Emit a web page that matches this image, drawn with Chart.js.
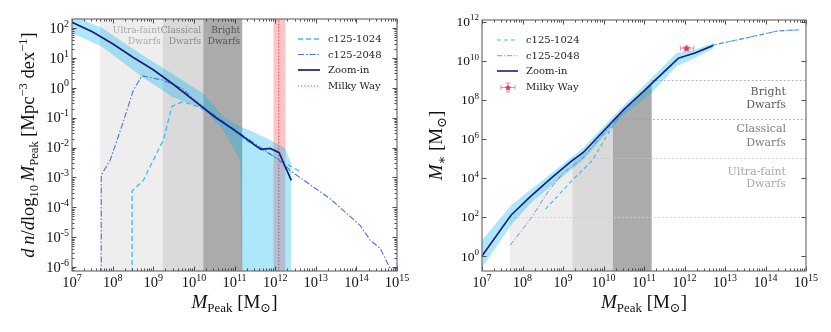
<!DOCTYPE html>
<html>
<head>
<meta charset="utf-8">
<script src="https://cdn.jsdelivr.net/npm/chart.js@4.4.0/dist/chart.umd.min.js"></script>
<style>
  html, body { margin: 0; padding: 0; background: #fff; }
  #wrap { position: relative; width: 831px; height: 332px; }
  .box { position: absolute; top: 0; height: 332px; }
</style>
</head>
<body>
<div id="wrap">
  <div class="box" style="left:0;width:415px"><canvas id="hmf" width="415" height="332"></canvas></div>
  <div class="box" style="left:415px;width:416px"><canvas id="smhm" width="416" height="332"></canvas></div>
</div>
<script>
// all values are log10

// left panel: halo mass function
const hmfZoomX = [7.0, 7.5, 8.0, 8.5, 9.0, 9.5, 10.0, 10.5, 11.0, 11.5, 11.65, 11.88, 12.1, 12.25, 12.4];
const hmfZoomY = [2.19, 1.87, 1.47, 1.02, 0.60, 0.11, -0.42, -0.96, -1.42, -1.92, -2.06, -2.03, -2.17, -2.65, -3.1];
const hmfBandX = [7.0, 7.74, 8.72, 9.46, 10.23, 10.72, 11.14, 11.19, 11.38, 11.88, 12.25, 12.39];
const hmfBandHi = [2.43, 2.0, 1.1, 0.48, -0.19, -0.95, -1.31, -1.33, -1.42, -1.75, -2.02, -2.52];
const hmfBandLo = [1.83, 1.37, 0.37, -0.3, -0.69, -1.42, -2.42, -8, -8, -8, -8, -8];
const hmf2048X = [7.72, 7.72, 7.94, 8.22, 8.51, 8.72, 9.22, 9.71, 10.04, 10.3, 11.19, 12.1, 12.4, 13.35, 14.09, 14.34, 14.59, 14.85];
const hmf2048Y = [-7, -2.92, -2.42, -1.31, -0.08, 0.40, 0.26, -0.02, -0.45, -0.72, -1.58, -2.42, -2.8, -3.71, -4.6, -5.1, -5.38, -6.1];
const hmf1024X = [8.48, 8.48, 8.76, 9.0, 9.25, 9.46, 9.72, 10.12, 10.45, 11.14, 12.12, 12.62];
const hmf1024Y = [-7, -3.45, -3.09, -2.42, -1.75, -0.62, -0.47, -0.64, -0.91, -1.64, -2.42, -2.81];

// right panel: stellar mass - halo mass
const smhmZoomX = [7.0, 7.72, 8.2, 8.7, 9.2, 9.5, 10.0, 10.5, 11.0, 11.25, 11.85, 12.26, 12.71];
const smhmZoomY = [0.0, 2.1, 3.05, 3.97, 4.84, 5.3, 6.4, 7.5, 8.45, 8.95, 10.13, 10.39, 10.78];
const smhmBandX = [7.0, 7.72, 8.23, 9.47, 10.46, 11.19, 11.8, 12.26, 12.71];
const smhmBandHi = [0.8, 2.59, 3.44, 5.48, 7.62, 9.12, 10.39, 10.56, 10.9];
const smhmBandLo = [-0.6, 1.58, 2.76, 4.88, 7.15, 8.35, 9.71, 10.13, 10.64];
const smhm2048X = [7.7, 8.23, 8.6, 8.98, 9.47, 10.17, 10.5, 11.19, 11.85, 12.26, 12.71, 13.5, 14.3, 14.85];
const smhm2048Y = [0.56, 1.98, 3.2, 4.2, 4.97, 6.66, 7.45, 8.8, 10.1, 10.4, 10.8, 11.15, 11.52, 11.58];
const smhm1024X = [8.57, 9.22, 9.72, 10.17, 10.5, 11.19, 11.85, 12.26, 12.71, 13.5, 14.3, 14.85];
const smhm1024Y = [2.4, 3.86, 4.88, 6.45, 7.42, 8.8, 10.1, 10.4, 10.8, 11.15, 11.52, 11.58];

// Milky Way
const mwHalo = 12.09;
const mwHaloRange = [11.96, 12.25];
const mwStarX = [12.05];
const mwStarY = [10.64];
const mwStarErrX = [11.9, 12.23];
const mwStarErrY = [10.54, 10.74];

// dwarf classes
const dwarfEdges = [7.69, 9.23, 10.23, 11.19];
const dwarfNames = [["Ultra-faint", "Dwarfs"], ["Classical", "Dwarfs"], ["Bright", "Dwarfs"]];
const dwarfStarLevels = [2, 5, 7, 9];

// tick labels (exponents)
const massDecades = [7, 8, 9, 10, 11, 12, 13, 14, 15];
const hmfDecades = [-6, -5, -4, -3, -2, -1, 0, 1, 2];
const smhmDecades = [0, 2, 4, 6, 8, 10, 12];

const seriesNames = ["c125-1024", "c125-2048", "Zoom-in", "Milky Way"];

// ---------------------------------------------------------------
const serif = '"DejaVu Serif", serif';
const mathFont = '"Liberation Serif", "DejaVu Serif", serif';
const grays = ["#eeeeee", "#dadada", "#ababab"];
const bandColor = "rgba(0,180,235,0.32)";
const navy = "#18207f";

function lg(v) { return Math.pow(10, v); }
function pts(xs, ys) { return xs.map((x, i) => ({ x: lg(x), y: lg(ys[i]) })); }

function drawRich(ctx, segs, x, y, size, rotate) {
	ctx.save();
	ctx.translate(x, y);
	if (rotate) ctx.rotate(-Math.PI / 2);
	let total = 0;
	const items = segs.map(s => {
		const sz = s.dy ? size * 0.68 : size;
		const font = (s.it ? "italic " : "") + sz.toFixed(1) + "px " + mathFont;
		ctx.font = font;
		const w = ctx.measureText(s.t).width;
		total += w;
		return { t: s.t, font: font, w: w, dy: (s.dy || 0) * size };
	});
	let cx = -total / 2;
	ctx.fillStyle = "#111";
	ctx.textAlign = "left";
	ctx.textBaseline = "alphabetic";
	items.forEach(it => { ctx.font = it.font; ctx.fillText(it.t, cx, it.dy); cx += it.w; });
	ctx.restore();
}

function powLabel(ctx, exp, x, y, size, align) {
	const e = String(exp);
	ctx.font = size + "px " + mathFont;
	const w1 = ctx.measureText("10").width;
	ctx.font = Math.round(size * 0.7) + "px " + mathFont;
	const w2 = ctx.measureText(e).width;
	const x0 = align === "right" ? x - w1 - w2 : x - (w1 + w2) / 2;
	ctx.fillStyle = "#111";
	ctx.textAlign = "left";
	ctx.textBaseline = "alphabetic";
	ctx.font = size + "px " + mathFont;
	ctx.fillText("10", x0, y);
	ctx.font = Math.round(size * 0.7) + "px " + mathFont;
	ctx.fillText(e, x0 + w1, y - size * 0.42);
}

// inward ticks on all four sides + frame
function drawFrame(chart, yMinor, yStep) {
	const { ctx, chartArea: a, scales } = chart;
	const xs = scales.x, ys = scales.y;
	ctx.save();
	ctx.strokeStyle = "#222";
	ctx.lineWidth = 0.8;
	ctx.beginPath();
	const xlo = Math.floor(Math.log10(xs.min)), xhi = Math.ceil(Math.log10(xs.max));
	for (let d = xlo; d <= xhi; d++) {
		for (let k = 1; k <= 9; k++) {
			const v = k * lg(d);
			if (v < xs.min * 0.999 || v > xs.max * 1.001) continue;
			const p = Math.round(xs.getPixelForValue(v)) + 0.5;
			const len = k === 1 ? 4.5 : 2.5;
			ctx.moveTo(p, a.bottom); ctx.lineTo(p, a.bottom - len);
			ctx.moveTo(p, a.top); ctx.lineTo(p, a.top + len);
		}
	}
	const ylo = Math.floor(Math.log10(ys.min)), yhi = Math.ceil(Math.log10(ys.max));
	for (let d = ylo; d <= yhi; d++) {
		for (let k = 1; k <= 9; k++) {
			if (k > 1 && !yMinor) break;
			if (k === 1 && d % yStep !== 0) continue;
			const v = k * lg(d);
			if (v < ys.min * 0.999 || v > ys.max * 1.001) continue;
			const p = Math.round(ys.getPixelForValue(v)) + 0.5;
			const len = k === 1 ? 4.5 : 2.5;
			ctx.moveTo(a.left, p); ctx.lineTo(a.left + len, p);
			ctx.moveTo(a.right, p); ctx.lineTo(a.right - len, p);
		}
	}
	ctx.stroke();
	ctx.strokeStyle = "#707070";
	ctx.lineWidth = 1.2;
	ctx.strokeRect(a.left, a.top, a.right - a.left, a.bottom - a.top);
	ctx.restore();
}

function legendEntry(ctx, x0, x1, y, ds, text) {
	ctx.save();
	ctx.strokeStyle = ds.borderColor;
	ctx.lineWidth = ds.borderWidth;
	ctx.setLineDash(ds.borderDash || []);
	ctx.beginPath(); ctx.moveTo(x0, y); ctx.lineTo(x1, y); ctx.stroke();
	ctx.restore();
	legendText(ctx, x1 + 8, y, text);
}
function legendText(ctx, x, y, text) {
	ctx.save();
	ctx.fillStyle = "#222";
	ctx.font = "10px " + serif;
	ctx.textAlign = "left";
	ctx.textBaseline = "middle";
	ctx.fillText(text, x, y + 0.5);
	ctx.restore();
}

function drawStar(ctx, cx, cy, r, color) {
	ctx.save();
	ctx.fillStyle = color;
	ctx.beginPath();
	for (let i = 0; i < 10; i++) {
		const rr = i % 2 ? r * 0.42 : r;
		const ang = -Math.PI / 2 + i * Math.PI / 5;
		const px = cx + rr * Math.cos(ang), py = cy + rr * Math.sin(ang);
		i ? ctx.lineTo(px, py) : ctx.moveTo(px, py);
	}
	ctx.closePath();
	ctx.fill();
	ctx.restore();
}
function errBars(ctx, x0, x1, xc, y0, y1, yc, color) {
	ctx.save();
	ctx.strokeStyle = color;
	ctx.lineWidth = 1;
	ctx.beginPath();
	ctx.moveTo(x0, yc); ctx.lineTo(x1, yc);
	ctx.moveTo(x0, yc - 2.5); ctx.lineTo(x0, yc + 2.5);
	ctx.moveTo(x1, yc - 2.5); ctx.lineTo(x1, yc + 2.5);
	ctx.moveTo(xc, y0); ctx.lineTo(xc, y1);
	ctx.moveTo(xc - 2.5, y0); ctx.lineTo(xc + 2.5, y0);
	ctx.moveTo(xc - 2.5, y1); ctx.lineTo(xc + 2.5, y1);
	ctx.stroke();
	ctx.restore();
}

const starImg = document.createElement("canvas");
starImg.width = 10; starImg.height = 10;
drawStar(starImg.getContext("2d"), 5, 5.4, 4.4, "#e0325c");

function sizeAxes(xh, yw) {
	return {
		x: {
			type: "logarithmic",
			min: 1e7, max: 1e15,
			grid: { display: false }, border: { display: false },
			ticks: { display: false },
			afterFit: s => { s.height = xh; }
		},
		y: {
			type: "logarithmic",
			grid: { display: false }, border: { display: false },
			ticks: { display: false },
			afterFit: s => { s.width = yw; }
		}
	};
}

// ---------------- left: mass function ----------------
const hmfScales = sizeAxes(61, 72);
hmfScales.y.min = lg(-6.13);
hmfScales.y.max = lg(2.3);

const hmfPlugin = {
	id: "hmfDecor",
	beforeDatasetsDraw(chart) {
		const { ctx, chartArea: a, scales: { x } } = chart;
		ctx.save();
		for (let i = 0; i < 3; i++) {
			const x0 = x.getPixelForValue(lg(dwarfEdges[i]));
			const x1 = x.getPixelForValue(lg(dwarfEdges[i + 1]));
			ctx.fillStyle = grays[i];
			ctx.fillRect(x0, a.top, x1 - x0, a.bottom - a.top);
		}
		const m0 = x.getPixelForValue(lg(mwHaloRange[0])), m1 = x.getPixelForValue(lg(mwHaloRange[1]));
		ctx.fillStyle = "rgba(255,110,110,0.4)";
		ctx.fillRect(m0, a.top, m1 - m0, a.bottom - a.top);
		// class labels
		const tcol = ["#aaaaaa", "#8a8a8a", "#555555"];
		ctx.font = "9px " + serif;
		ctx.textAlign = "right";
		ctx.textBaseline = "middle";
		for (let i = 0; i < 3; i++) {
			const xr = x.getPixelForValue(lg(dwarfEdges[i + 1])) - 2;
			ctx.fillStyle = tcol[i];
			ctx.fillText(dwarfNames[i][0], xr, a.top + 12);
			ctx.fillText(dwarfNames[i][1], xr, a.top + 23);
		}
		ctx.restore();
	},
	afterDraw(chart) {
		const { ctx, chartArea: a, scales: { x, y } } = chart;
		drawFrame(chart, true, 1);
		massDecades.forEach(d => powLabel(ctx, d, x.getPixelForValue(lg(d)), a.bottom + 16, 14.5, "center"));
		hmfDecades.forEach(d => powLabel(ctx, d, a.left - 3, y.getPixelForValue(lg(d)) + 4.8, 14.5, "right"));
		drawRich(ctx, [
			{ t: "M", it: true }, { t: "Peak", dy: 0.22 }, { t: " [M" }, { t: "\u2299", dy: 0.22 }, { t: "]" }
		], (a.left + a.right) / 2, a.bottom + 37, 19, false);
		drawRich(ctx, [
			{ t: "d\u2009n", it: true }, { t: "/" }, { t: "d", it: true }, { t: "log" }, { t: "10", dy: 0.22 },
			{ t: "\u2009" }, { t: "M", it: true }, { t: "Peak", dy: 0.22 }, { t: " [Mpc" }, { t: "\u22123", dy: -0.4 },
			{ t: " dex" }, { t: "\u22121", dy: -0.4 }, { t: "]" }
		], 34, (a.top + a.bottom) / 2, 18.5, true);
		const ds = chart.data.datasets;
		legendEntry(ctx, 298, 320, 39, ds[2], seriesNames[0]);
		legendEntry(ctx, 298, 320, 54.5, ds[1], seriesNames[1]);
		legendEntry(ctx, 298, 320, 70, ds[0], seriesNames[2]);
		legendEntry(ctx, 298, 320, 86, ds[3], seriesNames[3]);
	}
};

new Chart(document.getElementById("hmf"), {
	type: "line",
	data: {
		datasets: [
			{ label: seriesNames[2], data: pts(hmfZoomX, hmfZoomY), borderColor: navy, borderWidth: 1.7, pointRadius: 0, fill: false },
			{ label: seriesNames[1], data: pts(hmf2048X, hmf2048Y), borderColor: "#4d72e3", borderWidth: 1.1, borderDash: [6, 2, 1.5, 2], pointRadius: 0, fill: false },
			{ label: seriesNames[0], data: pts(hmf1024X, hmf1024Y), borderColor: "#3dbdf0", borderWidth: 1.3, borderDash: [5, 3], pointRadius: 0, fill: false },
			{ label: seriesNames[3], data: [{ x: lg(mwHalo), y: lg(-7) }, { x: lg(mwHalo), y: lg(3) }], borderColor: "#e2385f", borderWidth: 1.2, borderDash: [1.2, 2], pointRadius: 0, fill: false },
			{ label: "band", data: pts(hmfBandX, hmfBandHi), borderWidth: 0, borderColor: "rgba(0,0,0,0)", backgroundColor: bandColor, pointRadius: 0, fill: "+1" },
			{ label: "bandLo", data: pts(hmfBandX, hmfBandLo), borderWidth: 0, borderColor: "rgba(0,0,0,0)", pointRadius: 0, fill: false }
		]
	},
	options: {
		responsive: false,
		animation: false,
		devicePixelRatio: 1,
		layout: { padding: { top: 19, right: 18, left: 0, bottom: 0 } },
		scales: hmfScales,
		plugins: { legend: { display: false }, tooltip: { enabled: false } }
	},
	plugins: [hmfPlugin]
});

// ---------------- right: stellar mass - halo mass ----------------
const smhmScales = sizeAxes(61, 67);
smhmScales.y.min = lg(-0.77);
smhmScales.y.max = lg(12.08);

const smhmPlugin = {
	id: "smhmDecor",
	beforeDatasetsDraw(chart) {
		const { ctx, chartArea: a, scales: { x, y } } = chart;
		const line = chart.getDatasetMeta(0).data;
		ctx.save();
		ctx.beginPath();
		line.forEach((p, i) => i ? ctx.lineTo(p.x, p.y) : ctx.moveTo(p.x, p.y));
		ctx.lineTo(line[line.length - 1].x, a.bottom);
		ctx.lineTo(line[0].x, a.bottom);
		ctx.closePath();
		ctx.clip();
		for (let i = 0; i < 3; i++) {
			const x0 = x.getPixelForValue(lg(dwarfEdges[i]));
			const x1 = x.getPixelForValue(lg(dwarfEdges[i + 1]));
			ctx.fillStyle = grays[i];
			ctx.fillRect(x0, a.top, x1 - x0, a.bottom - a.top);
		}
		ctx.restore();
		// dotted class thresholds
		const lcol = ["#d0d0d0", "#c4c4c4", "#a0a0a0", "#a0a0a0"];
		ctx.save();
		ctx.lineWidth = 0.8;
		ctx.setLineDash([2, 2]);
		dwarfStarLevels.forEach((lv, i) => {
			const py = Math.round(y.getPixelForValue(lg(lv))) + 0.5;
			const x0 = x.getPixelForValue(lg(dwarfEdges[i]));
			ctx.strokeStyle = lcol[i];
			ctx.beginPath(); ctx.moveTo(x0, py); ctx.lineTo(a.right, py); ctx.stroke();
		});
		ctx.restore();
		// class labels
		const tcol = ["#a8a8a8", "#7c7c7c", "#5a5a5a"];
		const tpos = [[4.31, 3.69], [6.51, 5.79], [8.41, 7.74]];
		ctx.save();
		ctx.font = "11px " + serif;
		ctx.textAlign = "right";
		ctx.textBaseline = "middle";
		for (let i = 0; i < 3; i++) {
			ctx.fillStyle = tcol[i];
			ctx.fillText(dwarfNames[i][0], a.right - 20, y.getPixelForValue(lg(tpos[i][0])));
			ctx.fillText(dwarfNames[i][1], a.right - 20, y.getPixelForValue(lg(tpos[i][1])));
		}
		ctx.restore();
	},
	afterDatasetsDraw(chart) {
		const { ctx, scales: { x, y } } = chart;
		errBars(ctx, x.getPixelForValue(lg(mwStarErrX[0])), x.getPixelForValue(lg(mwStarErrX[1])), x.getPixelForValue(lg(mwStarX[0])),
			y.getPixelForValue(lg(mwStarErrY[0])), y.getPixelForValue(lg(mwStarErrY[1])), y.getPixelForValue(lg(mwStarY[0])), "rgba(226,60,95,0.55)");
	},
	afterDraw(chart) {
		const { ctx, chartArea: a, scales: { x, y } } = chart;
		drawFrame(chart, false, 2);
		massDecades.forEach(d => powLabel(ctx, d, x.getPixelForValue(lg(d)), a.bottom + 16, 14, "center"));
		smhmDecades.forEach(d => powLabel(ctx, d, a.left - 3, y.getPixelForValue(lg(d)) + 4.6, 13.5, "right"));
		drawRich(ctx, [
			{ t: "M", it: true }, { t: "Peak", dy: 0.22 }, { t: " [M" }, { t: "\u2299", dy: 0.22 }, { t: "]" }
		], (a.left + a.right) / 2, a.bottom + 37, 19, false);
		drawRich(ctx, [
			{ t: "M", it: true }, { t: "\u2217", dy: 0.22 }, { t: " [M" }, { t: "\u2299", dy: 0.22 }, { t: "]" }
		], 27, (a.top + a.bottom) / 2, 19, true);
		const ds = chart.data.datasets;
		legendEntry(ctx, 82, 103, 40, ds[3], seriesNames[0]);
		legendEntry(ctx, 82, 103, 55.7, ds[2], seriesNames[1]);
		legendEntry(ctx, 82, 103, 71, ds[0], seriesNames[2]);
		errBars(ctx, 86, 100, 93, 83, 92, 87.5, "rgba(226,60,95,0.55)");
		drawStar(ctx, 93, 87.8, 3.8, "#e0325c");
		legendText(ctx, 111, 87.3, seriesNames[3]);
	}
};

new Chart(document.getElementById("smhm"), {
	type: "line",
	data: {
		datasets: [
			{ label: seriesNames[2], data: pts(smhmZoomX, smhmZoomY), borderColor: navy, borderWidth: 1.6, pointRadius: 0, fill: false },
			{ label: seriesNames[3], data: pts(mwStarX, mwStarY), showLine: false, pointStyle: starImg, pointRadius: 5, fill: false },
			{ label: seriesNames[1], data: pts(smhm2048X, smhm2048Y), borderColor: "rgba(80,110,225,0.75)", borderWidth: 1, borderDash: [5, 2, 1.2, 2], pointRadius: 0, fill: false },
			{ label: seriesNames[0], data: pts(smhm1024X, smhm1024Y), borderColor: "rgba(40,180,240,0.85)", borderWidth: 1.2, borderDash: [4, 3], pointRadius: 0, fill: false },
			{ label: "band", data: pts(smhmBandX, smhmBandHi), borderWidth: 0, borderColor: "rgba(0,0,0,0)", backgroundColor: bandColor, pointRadius: 0, fill: "+1" },
			{ label: "bandLo", data: pts(smhmBandX, smhmBandLo), borderWidth: 0, borderColor: "rgba(0,0,0,0)", pointRadius: 0, fill: false }
		]
	},
	options: {
		responsive: false,
		animation: false,
		devicePixelRatio: 1,
		layout: { padding: { top: 20, right: 25, left: 0, bottom: 0 } },
		scales: smhmScales,
		plugins: { legend: { display: false }, tooltip: { enabled: false } }
	},
	plugins: [smhmPlugin]
});
</script>
</body>
</html>
